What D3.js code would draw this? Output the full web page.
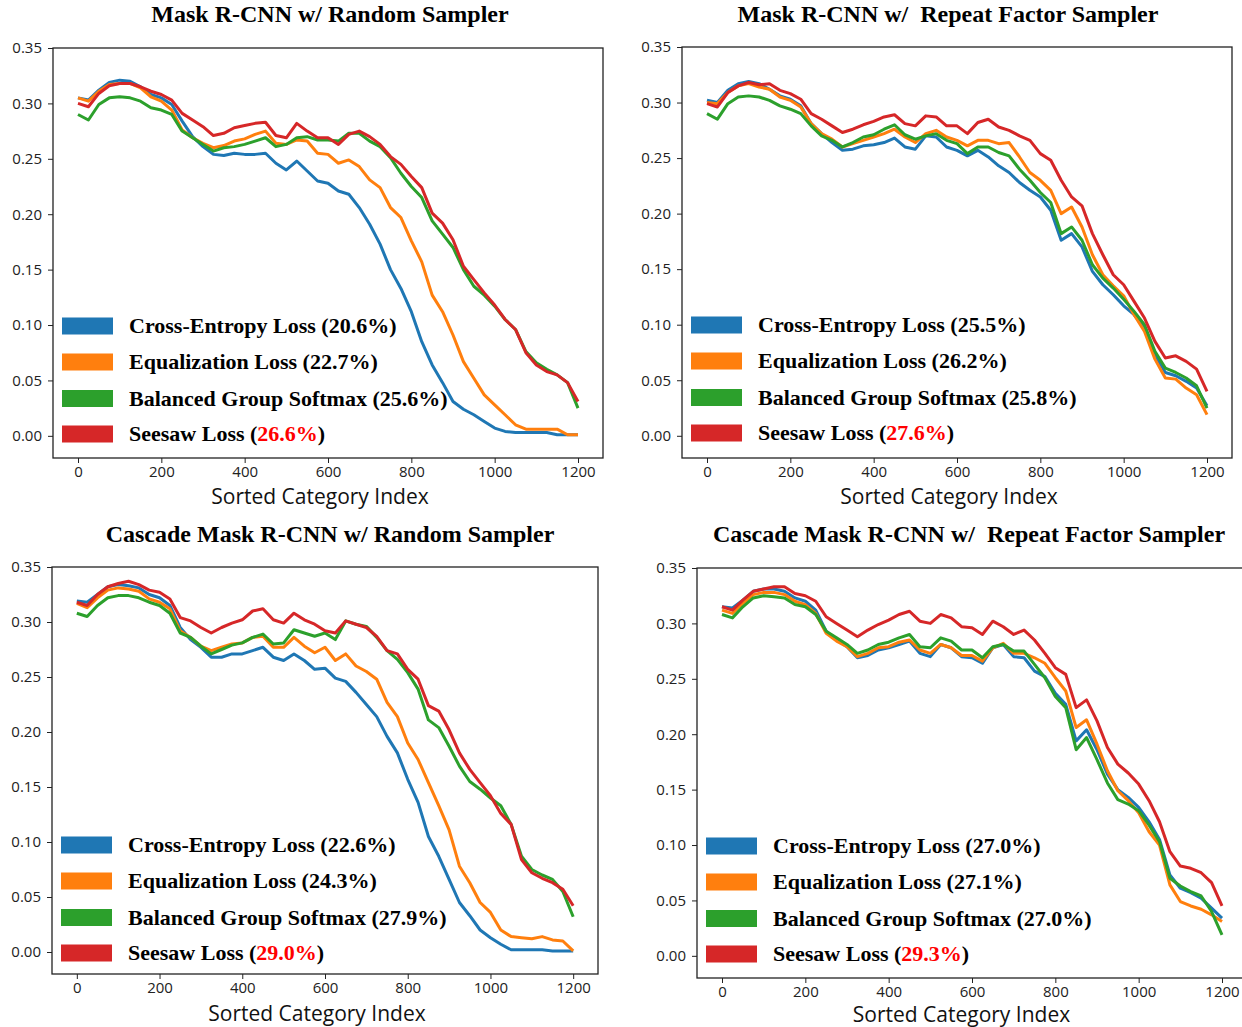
<!DOCTYPE html>
<html>
<head>
<meta charset="utf-8">
<script src="https://cdn.jsdelivr.net/npm/d3@7"></script>
<style>
  body { margin: 0; background: #fff; }
  #vis { width: 1242px; height: 1027px; }
  .title { font-family: "Liberation Serif", "Times New Roman", serif; font-weight: bold; font-size: 24px; white-space: pre; }
  .tick text { font-family: "Open Sans", "Liberation Sans", sans-serif; font-size: 15px; fill: #222; }
  .xlabel { font-family: "Open Sans", "Liberation Sans", sans-serif; font-size: 21px; fill: #111; }
  .leg { font-family: "Liberation Serif", "Times New Roman", serif; font-weight: bold; font-size: 22px; fill: #000; }
</style>
</head>
<body>
<div id="vis"></div>
<script>
// Sorted category index (sampled every 25 categories)
const catIndex = [0,25,50,75,100,125,150,175,200,225,250,275,300,325,350,375,400,425,450,475,500,525,550,575,600,
  625,650,675,700,725,750,775,800,825,850,875,900,925,950,975,1000,1025,1050,1075,1100,1125,1150,1175,1200];

const xTicks = [0, 200, 400, 600, 800, 1000, 1200];
const yTicks = [0, 0.05, 0.10, 0.15, 0.20, 0.25, 0.30, 0.35];
const methods = ["Cross-Entropy Loss", "Equalization Loss", "Balanced Group Softmax", "Seesaw Loss"];
const colors = ["#1f77b4", "#ff7f0e", "#2ca02c", "#d62728"];

// Mask R-CNN w/ Random Sampler
const mrRandomCE = [0.305,0.303,0.312,0.319,0.321,0.320,0.315,0.308,0.305,0.299,0.284,0.270,0.261,0.254,0.253,0.255,0.254,0.254,0.255,0.246,0.240,0.248,0.239,0.230,0.228,0.221,0.218,0.206,0.191,0.173,0.150,0.133,0.112,0.085,0.064,0.048,0.031,0.024,0.019,0.013,0.007,0.004,0.003,0.003,0.003,0.003,0.001,0.001,0.001];
const mrRandomEQL = [0.305,0.302,0.311,0.317,0.318,0.318,0.314,0.306,0.302,0.294,0.276,0.269,0.264,0.260,0.262,0.266,0.268,0.272,0.275,0.264,0.263,0.267,0.266,0.255,0.254,0.246,0.249,0.243,0.231,0.224,0.206,0.197,0.176,0.157,0.127,0.112,0.091,0.067,0.052,0.037,0.028,0.019,0.010,0.006,0.006,0.006,0.006,0.001,0.001];
const mrRandomBGS = [0.290,0.285,0.299,0.305,0.306,0.305,0.302,0.296,0.294,0.290,0.275,0.269,0.263,0.257,0.260,0.261,0.263,0.266,0.269,0.261,0.263,0.269,0.270,0.267,0.267,0.266,0.273,0.273,0.266,0.261,0.251,0.237,0.225,0.215,0.194,0.182,0.170,0.150,0.135,0.127,0.117,0.105,0.096,0.076,0.066,0.060,0.055,0.048,0.025];
const mrRandomSeesaw = [0.300,0.297,0.309,0.316,0.318,0.318,0.315,0.311,0.308,0.303,0.291,0.285,0.279,0.271,0.273,0.278,0.280,0.282,0.283,0.271,0.269,0.282,0.275,0.269,0.269,0.263,0.272,0.275,0.270,0.263,0.252,0.245,0.234,0.224,0.201,0.192,0.177,0.153,0.141,0.129,0.118,0.105,0.096,0.075,0.064,0.058,0.055,0.048,0.031];
const mrRandomPct = ["20.6%", "22.7%", "25.6%", "26.6%"];

// Mask R-CNN w/ Repeat Factor Sampler
const mrRfsCE = [0.302,0.300,0.311,0.317,0.319,0.317,0.312,0.306,0.303,0.297,0.281,0.272,0.264,0.257,0.258,0.261,0.262,0.264,0.268,0.260,0.258,0.270,0.269,0.260,0.257,0.252,0.257,0.251,0.243,0.237,0.228,0.221,0.215,0.203,0.176,0.182,0.170,0.148,0.136,0.127,0.117,0.109,0.097,0.073,0.057,0.054,0.049,0.043,0.027];
const mrRfsEQL = [0.300,0.299,0.309,0.315,0.317,0.314,0.312,0.305,0.302,0.296,0.281,0.272,0.267,0.260,0.263,0.266,0.269,0.272,0.276,0.269,0.264,0.272,0.275,0.269,0.266,0.261,0.266,0.266,0.263,0.264,0.251,0.237,0.230,0.221,0.200,0.206,0.188,0.163,0.145,0.135,0.126,0.109,0.094,0.069,0.052,0.051,0.043,0.037,0.019];
const mrRfsBGS = [0.290,0.285,0.299,0.305,0.306,0.305,0.302,0.297,0.294,0.290,0.279,0.270,0.266,0.260,0.264,0.269,0.271,0.276,0.280,0.271,0.267,0.270,0.272,0.266,0.263,0.254,0.260,0.260,0.255,0.252,0.240,0.230,0.219,0.210,0.182,0.188,0.176,0.154,0.142,0.133,0.123,0.112,0.100,0.076,0.061,0.057,0.052,0.045,0.025];
const mrRfsSeesaw = [0.299,0.296,0.309,0.315,0.318,0.316,0.317,0.311,0.308,0.303,0.290,0.285,0.279,0.273,0.276,0.280,0.283,0.287,0.289,0.281,0.279,0.288,0.287,0.279,0.279,0.272,0.282,0.285,0.278,0.275,0.270,0.266,0.254,0.248,0.230,0.215,0.207,0.182,0.163,0.145,0.136,0.121,0.106,0.085,0.070,0.072,0.067,0.060,0.040];
const mrRfsPct = ["25.5%", "26.2%", "25.8%", "27.6%"];

// Cascade Mask R-CNN w/ Random Sampler
const cmrRandomCE = [0.319,0.318,0.325,0.332,0.334,0.333,0.331,0.325,0.322,0.315,0.295,0.284,0.277,0.268,0.268,0.271,0.271,0.274,0.277,0.268,0.265,0.271,0.265,0.257,0.258,0.249,0.246,0.236,0.225,0.214,0.196,0.181,0.157,0.136,0.105,0.087,0.066,0.045,0.033,0.020,0.013,0.007,0.002,0.002,0.002,0.002,0.001,0.001,0.001];
const cmrRandomEQL = [0.317,0.313,0.322,0.329,0.331,0.330,0.328,0.321,0.318,0.312,0.292,0.286,0.278,0.274,0.277,0.280,0.281,0.286,0.287,0.277,0.277,0.286,0.278,0.272,0.277,0.265,0.271,0.260,0.255,0.248,0.227,0.214,0.190,0.175,0.154,0.133,0.111,0.078,0.063,0.045,0.036,0.020,0.014,0.013,0.012,0.014,0.011,0.010,0.001];
const cmrRandomBGS = [0.308,0.305,0.315,0.322,0.324,0.324,0.322,0.318,0.315,0.308,0.290,0.286,0.278,0.271,0.275,0.279,0.281,0.286,0.289,0.280,0.281,0.293,0.290,0.287,0.290,0.284,0.301,0.298,0.296,0.286,0.274,0.266,0.254,0.239,0.211,0.204,0.187,0.169,0.155,0.148,0.140,0.133,0.116,0.087,0.075,0.070,0.066,0.055,0.032];
const cmrRandomSeesaw = [0.318,0.315,0.325,0.332,0.335,0.337,0.334,0.329,0.327,0.321,0.304,0.301,0.295,0.290,0.295,0.299,0.302,0.310,0.312,0.302,0.299,0.308,0.302,0.298,0.292,0.290,0.301,0.298,0.295,0.287,0.274,0.271,0.257,0.248,0.224,0.219,0.202,0.181,0.166,0.154,0.142,0.126,0.116,0.084,0.072,0.067,0.063,0.057,0.042];
const cmrRandomPct = ["22.6%", "24.3%", "27.9%", "29.0%"];

// Cascade Mask R-CNN w/ Repeat Factor Sampler
const cmrRfsCE = [0.315,0.314,0.321,0.329,0.331,0.331,0.329,0.323,0.320,0.312,0.293,0.285,0.279,0.269,0.271,0.276,0.278,0.281,0.284,0.273,0.270,0.281,0.278,0.270,0.269,0.264,0.278,0.281,0.270,0.269,0.257,0.252,0.237,0.227,0.194,0.204,0.186,0.164,0.150,0.143,0.134,0.121,0.105,0.073,0.061,0.057,0.052,0.043,0.034];
const cmrRfsEQL = [0.312,0.309,0.318,0.326,0.328,0.328,0.326,0.320,0.317,0.309,0.291,0.284,0.279,0.270,0.273,0.278,0.279,0.283,0.285,0.276,0.273,0.281,0.278,0.271,0.271,0.266,0.278,0.282,0.273,0.273,0.269,0.264,0.251,0.239,0.206,0.213,0.191,0.167,0.149,0.140,0.129,0.112,0.100,0.064,0.049,0.045,0.042,0.037,0.031];
const cmrRfsBGS = [0.308,0.305,0.315,0.323,0.325,0.324,0.323,0.317,0.315,0.308,0.293,0.287,0.281,0.273,0.276,0.281,0.283,0.287,0.290,0.279,0.278,0.287,0.284,0.276,0.276,0.269,0.279,0.281,0.275,0.275,0.263,0.251,0.234,0.224,0.186,0.197,0.177,0.156,0.141,0.137,0.131,0.118,0.103,0.070,0.063,0.058,0.054,0.040,0.019];
const cmrRfsSeesaw = [0.315,0.312,0.321,0.329,0.331,0.333,0.333,0.327,0.325,0.320,0.306,0.300,0.294,0.288,0.294,0.299,0.303,0.308,0.311,0.302,0.300,0.308,0.305,0.297,0.296,0.290,0.302,0.297,0.290,0.294,0.285,0.273,0.260,0.254,0.224,0.231,0.212,0.188,0.173,0.165,0.155,0.140,0.121,0.094,0.081,0.079,0.075,0.066,0.045];
const cmrRfsPct = ["27.0%", "27.1%", "27.0%", "29.3%"];

// panel placement (pixel box of each axes)
const panels = [
  {title: "Mask R-CNN w/ Random Sampler", tx: 330, ty: 22, L: 53, R: 603, T: 48, B: 458, ly: 504,
   series: [mrRandomCE, mrRandomEQL, mrRandomBGS, mrRandomSeesaw], pct: mrRandomPct},
  {title: "Mask R-CNN w/  Repeat Factor Sampler", tx: 948, ty: 22, L: 682, R: 1232, T: 47, B: 458, ly: 504,
   series: [mrRfsCE, mrRfsEQL, mrRfsBGS, mrRfsSeesaw], pct: mrRfsPct},
  {title: "Cascade Mask R-CNN w/ Random Sampler", tx: 330, ty: 542, L: 52, R: 598, T: 567, B: 974, ly: 1021,
   series: [cmrRandomCE, cmrRandomEQL, cmrRandomBGS, cmrRandomSeesaw], pct: cmrRandomPct},
  {title: "Cascade Mask R-CNN w/  Repeat Factor Sampler", tx: 969, ty: 542, L: 697, R: 1247, T: 568, B: 978, ly: 1022,
   series: [cmrRfsCE, cmrRfsEQL, cmrRfsBGS, cmrRfsSeesaw], pct: cmrRfsPct}
];

const svg = d3.select('#vis').append('svg').attr('width', 1242).attr('height', 1027);

panels.forEach(p => {
  const x = d3.scaleLinear().domain([-60, 1260]).range([p.L, p.R]);
  const y = d3.scaleLinear().domain([-0.02, 0.35]).range([p.B, p.T]);
  const g = svg.append('g');

  const line = d3.line().x(d => x(d[0])).y(d => y(d[1]));

  p.series.forEach((vals, i) => {
    g.append('path')
      .datum(catIndex.map((c, k) => [c, vals[k]]))
      .attr('d', line)
      .attr('fill', 'none')
      .attr('stroke', colors[i])
      .attr('stroke-width', 3)
      .attr('stroke-linejoin', 'round');
  });

  // axes box
  g.append('rect')
    .attr('x', p.L).attr('y', p.T)
    .attr('width', p.R - p.L).attr('height', p.B - p.T)
    .attr('fill', 'none').attr('stroke', '#222').attr('stroke-width', 1.3);

  const ax = g.append('g')
    .attr('transform', `translate(0,${p.B})`)
    .call(d3.axisBottom(x).tickValues(xTicks).tickFormat(d3.format('d')).tickSize(5).tickPadding(3));
  ax.select('.domain').remove();
  ax.selectAll('line').attr('stroke', '#222');

  const ay = g.append('g')
    .attr('transform', `translate(${p.L},0)`)
    .call(d3.axisLeft(y).tickValues(yTicks).tickFormat(d3.format('.2f')).tickSize(5).tickPadding(6));
  ay.select('.domain').remove();
  ay.selectAll('line').attr('stroke', '#222');
  ay.selectAll('text').attr('font-size', null).attr('font-family', null);
  ax.selectAll('text').attr('font-size', null).attr('font-family', null);

  g.append('text')
    .attr('class', 'xlabel')
    .attr('x', (p.L + Math.min(p.R, 1242)) / 2 - 8)
    .attr('y', p.ly)
    .attr('text-anchor', 'middle')
    .text('Sorted Category Index');

  g.append('text')
    .attr('class', 'title')
    .attr('x', p.tx).attr('y', p.ty)
    .attr('text-anchor', 'middle')
    .text(p.title);

  // legend
  const rowY = [278, 314, 350.5, 386];
  methods.forEach((m, i) => {
    const cy = p.T + rowY[i];
    g.append('rect')
      .attr('x', p.L + 9).attr('y', cy - 8.5)
      .attr('width', 51).attr('height', 17)
      .attr('fill', colors[i]);
    const t = g.append('text')
      .attr('class', 'leg')
      .attr('x', p.L + 76).attr('y', cy + 7);
    t.append('tspan').text(m + ' (');
    t.append('tspan').attr('fill', i === 3 ? '#ff0000' : '#000').text(p.pct[i]);
    t.append('tspan').text(')');
  });
});
</script>
</body>
</html>
